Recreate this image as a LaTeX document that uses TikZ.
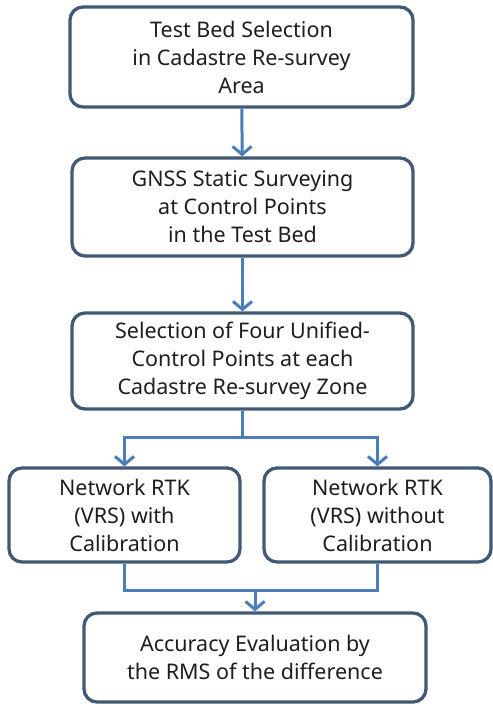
\documentclass[tikz,border=0pt]{standalone}
\usepackage{fontspec}
\setmainfont{Noto Sans}
\usetikzlibrary{calc, positioning}
\usetikzlibrary{arrows.meta}

\definecolor{boxline}{RGB}{65,88,118}
\definecolor{wireblue}{RGB}{74,126,187}
\definecolor{textgray}{RGB}{30,30,30}

\begin{document}
\begin{tikzpicture}[x=1pt,y=-1pt,line cap=round,line join=round,
  stepbox/.style={draw=boxline,line width=3.3pt,rounded corners=13pt,fill=white,
    align=center,text=textgray,inner sep=0pt,
    font=\fontsize{21.5}{28}\selectfont},
  wire/.style={draw=wireblue,line width=3pt,line cap=butt,line join=miter},
  conn/.style={wire,-{Straight Barb[length=8pt,width=19pt,line width=3pt]}}]
\path[use as bounding box,fill=white] (0,0) rectangle (493,713);

\node[stepbox,minimum width=343pt,minimum height=100pt] (bed) at (241.5,57)
  {Test Bed Selection\\in Cadastre Re-survey\\Area};
\node[stepbox,minimum width=341pt,minimum height=98pt] (gnss) at (242.5,207)
  {GNSS Static Surveying\\at Control Points\\in the Test Bed};
\node[stepbox,minimum width=341pt,minimum height=96pt] (sel) at (242.5,361)
  {Selection of Four Unified-\\Control Points at each\\Cadastre Re-survey Zone};
\node[stepbox,minimum width=231pt,minimum height=94pt] (rtkA) at (124.5,515)
  {Network RTK\\(VRS) with\\Calibration};
\node[stepbox,minimum width=227pt,minimum height=94pt] (rtkB) at (377.5,515)
  {Network RTK\\(VRS) without\\Calibration};
\node[stepbox,minimum width=342pt,minimum height=89pt] (eval) at (255,657.5)
  {Accuracy Evaluation by\\the RMS of the difference};

\coordinate (split) at (242.5,437);
\coordinate (join) at (255,590);

\draw[conn] (bed) -- (gnss);
\draw[conn] (gnss) -- (sel);
\draw[wire] (sel.south) -- (split);
\draw[conn] (split) -| (rtkA.north);
\draw[conn] (split) -| (rtkB.north);
\draw[wire] (rtkA.south) |- (join) -| (rtkB.south);
\draw[conn] (join) -- (eval.north);
\end{tikzpicture}
\end{document}
